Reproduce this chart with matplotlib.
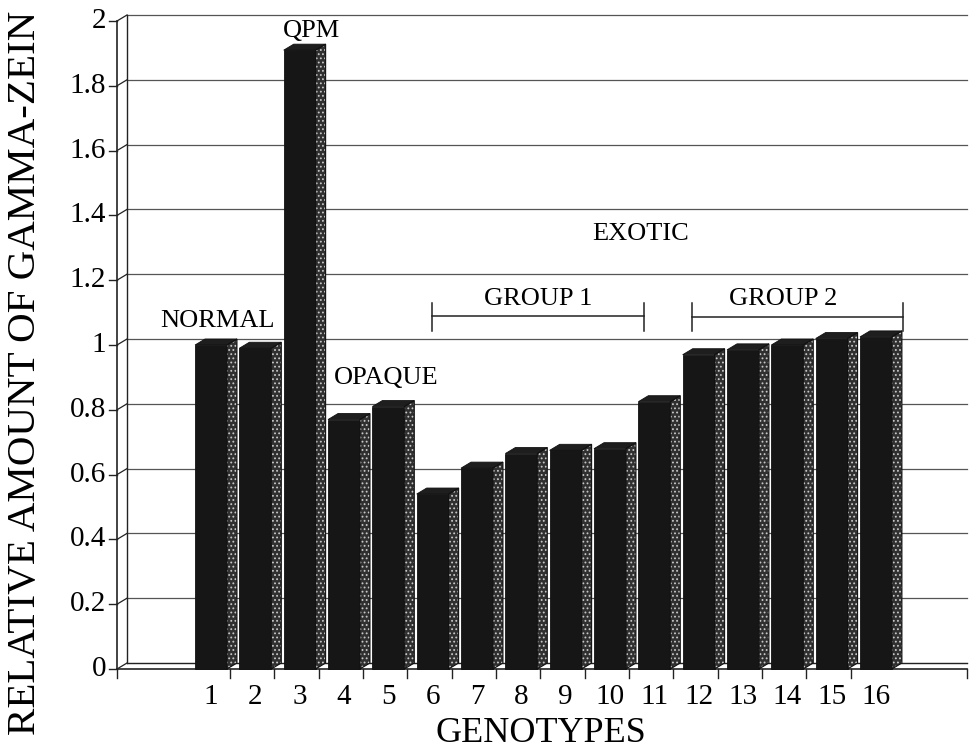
import matplotlib
matplotlib.use("Agg")
import matplotlib.pyplot as plt
from matplotlib.patches import Rectangle, Polygon

# ---- data ----
genotypes = [str(i) for i in range(1, 17)]
values = [1.00, 0.99, 1.91, 0.77, 0.81, 0.54, 0.62, 0.665, 0.675, 0.68,
          0.825, 0.97, 0.985, 1.00, 1.02, 1.025]
yticks = [0, 0.2, 0.4, 0.6, 0.8, 1, 1.2, 1.4, 1.6, 1.8, 2]
ytick_labels = ["0", "0.2", "0.4", "0.6", "0.8", "1", "1.2", "1.4", "1.6", "1.8", "2"]

W, H = 970, 752
FONT = "Liberation Serif"
plt.rcParams['font.family'] = [FONT, 'DejaVu Serif']

# pixel <-> data helpers (layout only)
PX0, PXS = 211.0, 44.33     # centre of bar 1 front face, spacing
PY0, PYS = 669.0, 324.0     # y=0 pixel, pixels per unit
def X(px):
    return 1 + (px - PX0) / PXS
def Y(py):
    return (PY0 - py) / PYS

fig = plt.figure(figsize=(W / 100, H / 100), dpi=100)
ax = fig.add_axes([117 / W, (H - PY0) / H, (967 - 117) / W, (PY0 - 21) / H])
xl, xr = X(117), X(967)
ax.set_xlim(xl, xr)
ax.set_ylim(0, 2)
ax.axis('off')

ddx = 10 / PXS   # depth offset x (data)
ddy = 6 / PYS    # depth offset y (data)
xb = xl + ddx    # back wall x
lc = '#222222'
gc = '#555555'

# back wall gridlines and vertical edge
for t in yticks:
    ax.plot([xb, xr], [t + ddy, t + ddy], color=gc, lw=0.9, clip_on=False, zorder=1)
    ax.plot([xl - 8 / PXS, xl], [t, t], color=lc, lw=1.0, clip_on=False, zorder=1)
    ax.plot([xl, xb], [t, t + ddy], color=lc, lw=0.9, clip_on=False, zorder=1)
ax.plot([xb, xb], [ddy, 2 + ddy], color=lc, lw=1.0, clip_on=False, zorder=1)
ax.plot([xl, xl], [0, 2], color=lc, lw=1.2, clip_on=False, zorder=1)

# floor
ax.plot([xl, xr], [0, 0], color=lc, lw=1.2, clip_on=False, zorder=1)
ax.plot([xb, xr], [ddy, ddy], color=lc, lw=0.9, clip_on=False, zorder=1)

# x ticks
xt = [xl] + [i + 0.43 for i in range(1, 16)] + [xr]
for x in xt:
    ax.plot([x, x], [0, -9 / PYS], color=lc, lw=1.0, clip_on=False, zorder=1)

# bars (pseudo 3D)
hw = 0.36
plt.rcParams['hatch.linewidth'] = 0.8
for i, v in enumerate(values, start=1):
    x0, x1 = i - hw, i + hw
    front = Rectangle((x0, 0), x1 - x0, v, facecolor='#161616', edgecolor='#111111',
                      lw=0.6, zorder=3, clip_on=False)
    side = Polygon([(x1, 0), (x1 + ddx, ddy), (x1 + ddx, v + ddy), (x1, v)],
                   closed=True, facecolor='#303030', edgecolor='#c8c8c8',
                   hatch='....', lw=0, zorder=3, clip_on=False)
    side_edge = Polygon([(x1, 0), (x1 + ddx, ddy), (x1 + ddx, v + ddy), (x1, v)],
                        closed=True, fill=False, edgecolor='#111111', lw=0.8,
                        zorder=3.5, clip_on=False)
    top = Polygon([(x0, v), (x0 + ddx, v + ddy), (x1 + ddx, v + ddy), (x1, v)],
                  closed=True, facecolor='#1e1e1e', edgecolor='#111111', lw=0.6,
                  zorder=3, clip_on=False)
    ax.add_patch(front)
    ax.add_patch(side)
    ax.add_patch(side_edge)
    ax.add_patch(top)
    ax.text(i, Y(697), genotypes[i - 1], ha='center', va='center', fontsize=21,
            family=FONT, clip_on=False)

# y tick labels
for t, lab in zip(yticks, ytick_labels):
    ax.text(X(106), t, lab, ha='right', va='center', fontsize=21, family=FONT,
            clip_on=False)

# annotations
def note(px, py, s, fs=19):
    ax.text(X(px), Y(py), s, ha='center', va='center', fontsize=fs, family=FONT,
            clip_on=False, zorder=5)

note(217, 321, "NORMAL")
note(311, 31, "QPM")
note(386, 378, "OPAQUE")
note(641, 234, "EXOTIC")
note(538, 299, "GROUP 1")
note(783, 299, "GROUP 2")

def bracket(p1, p2, py=316, h0=303, h1=331):
    ax.plot([X(p1), X(p2)], [Y(py), Y(py)], color=lc, lw=1.1, clip_on=False)
    for p in (p1, p2):
        ax.plot([X(p), X(p)], [Y(h0), Y(h1)], color=lc, lw=1.1, clip_on=False)

bracket(432, 644)
bracket(692, 903, py=317)

fig.text(26 / W, 1 - 373 / H, "RELATIVE AMOUNT OF GAMMA-ZEIN", rotation=90,
         ha='center', va='center', fontsize=29.5, family=FONT)
fig.text(541 / W, 1 - 734 / H, "GENOTYPES", ha='center', va='center',
         fontsize=26, family=FONT)

fig.savefig("out.png", dpi=100)
